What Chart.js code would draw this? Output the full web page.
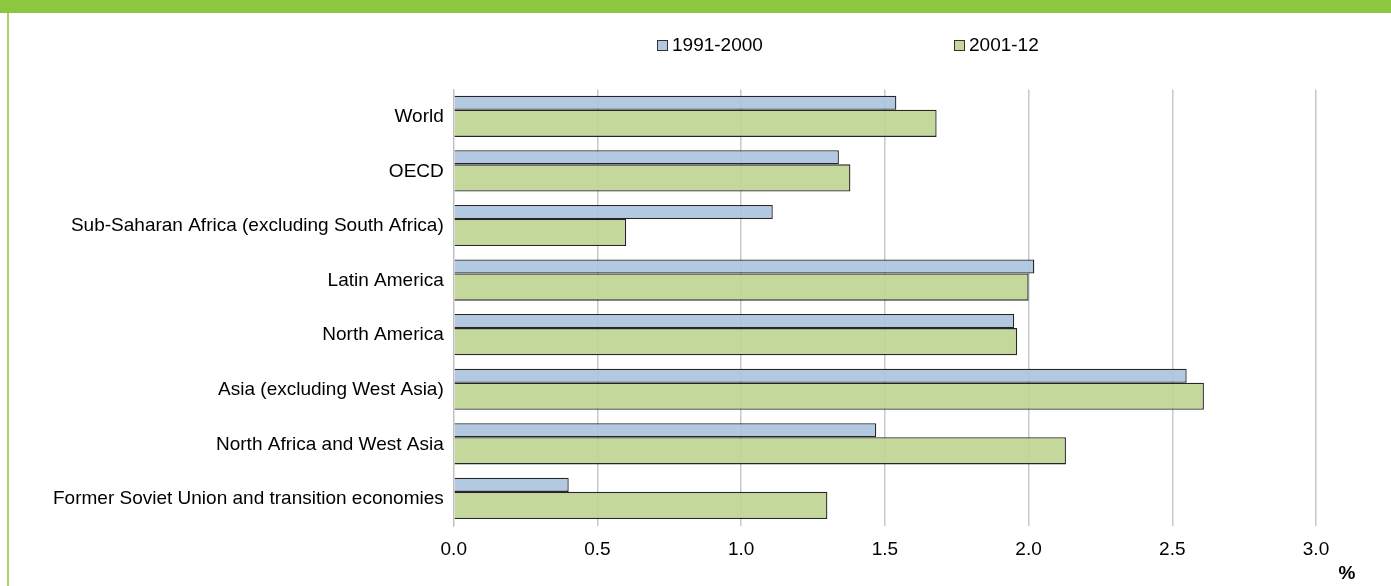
<!DOCTYPE html>
<html>
<head>
<meta charset="utf-8">
<script src="https://cdn.jsdelivr.net/npm/chart.js@4.4.1/dist/chart.umd.min.js"></script>
<style>
    html, body { margin: 0; padding: 0; background: #ffffff; }
    #wrap { position: relative; width: 1391px; height: 586px; overflow: hidden; }
    #band { position: absolute; left: 0; top: 0; width: 1391px; height: 13px; background: #8dc63f; }
    #edge { position: absolute; left: 7px; top: 13px; width: 2px; height: 573px; background: #a7d16b; }
    canvas { position: absolute; left: 0; top: 0; }
</style>
</head>
<body>
<div id="wrap">
    <canvas id="chart" width="1391" height="586"></canvas>
    <div id="band"></div>
    <div id="edge"></div>
</div>
<script>
// categories, top to bottom
const regions = [
    'World',
    'OECD',
    'Sub-Saharan Africa (excluding South Africa)',
    'Latin America',
    'North America',
    'Asia (excluding West Asia)',
    'North Africa and West Asia',
    'Former Soviet Union and transition economies'
];

const seriesNames = ['1991-2000', '2001-12'];

// average annual growth, %
const growth1991 = [1.54, 1.34, 1.11, 2.02, 1.95, 2.55, 1.47, 0.40];
const growth2001 = [1.68, 1.38, 0.60, 2.00, 1.96, 2.61, 2.13, 1.30];

const xTicks = [0, 0.5, 1.0, 1.5, 2.0, 2.5, 3.0];

Chart.defaults.font.family = '"Liberation Sans", Arial, sans-serif';
Chart.defaults.font.size = 19;
Chart.defaults.color = '#000000';

// legend + unit label drawn by hand (the legend items sit far apart)
const extras = {
    id: 'extras',
    afterDraw(chart) {
        const c = chart.ctx;
        const spots = [657, 954];
        c.save();
        c.font = '19px "Liberation Sans", Arial, sans-serif';
        c.textBaseline = 'middle';
        c.textAlign = 'left';
        chart.data.datasets.forEach((ds, i) => {
            const x = spots[i];
            c.fillStyle = ds.legendColor;
            c.fillRect(x, 40, 11, 11);
            c.strokeStyle = '#333333';
            c.lineWidth = 1;
            c.strokeRect(x + 0.5, 40.5, 10, 10);
            c.fillStyle = '#000000';
            c.fillText(ds.label, x + 15, 46);
        });
        // unit
        c.font = 'bold 19px "Liberation Sans", Arial, sans-serif';
        c.textAlign = 'center';
        c.fillText('%', chart.scales.x.right + 31, 574);
        c.restore();
    }
};

var ctx = document.getElementById('chart').getContext('2d');

var myBarChart = new Chart(ctx, {
    type: 'bar',
    data: {
        labels: regions,
        datasets: [
            {
                label: seriesNames[0],
                data: growth1991,
                backgroundColor: 'rgba(172, 196, 224, 0.92)',
                legendColor: '#b3c9e2',
                borderColor: '#262626',
                borderWidth: 1.3,
                // thin bar on top of each band
                categoryPercentage: 1.03,
                barPercentage: 0.5
            },
            {
                label: seriesNames[1],
                data: growth2001,
                backgroundColor: 'rgba(191, 213, 147, 0.92)',
                legendColor: '#c4d89c',
                borderColor: '#262626',
                borderWidth: 1.3,
                // thicker bar right under it
                categoryPercentage: 0.478,
                barPercentage: 2.08
            }
        ]
    },
    options: {
        indexAxis: 'y',
        responsive: false,
        animation: false,
        layout: {
            padding: { top: 89.5, left: 43, right: 75, bottom: 13 }
        },
        scales: {
            x: {
                min: 0,
                max: 3,
                afterBuildTicks: axis => {
                    axis.ticks = xTicks.map(v => ({ value: v }));
                },
                ticks: {
                    padding: 12,
                    callback: v => Number(v).toFixed(1)
                },
                grid: {
                    color: '#c8c8c8',
                    lineWidth: 1.5,
                    drawTicks: false
                },
                border: { display: false }
            },
            y: {
                grid: { display: false, drawTicks: false },
                border: { display: true, color: '#bfbfbf', width: 1 },
                ticks: { padding: 10 }
            }
        },
        plugins: {
            legend: { display: false },
            tooltip: { enabled: false }
        }
    },
    plugins: [extras]
});
</script>
</body>
</html>
